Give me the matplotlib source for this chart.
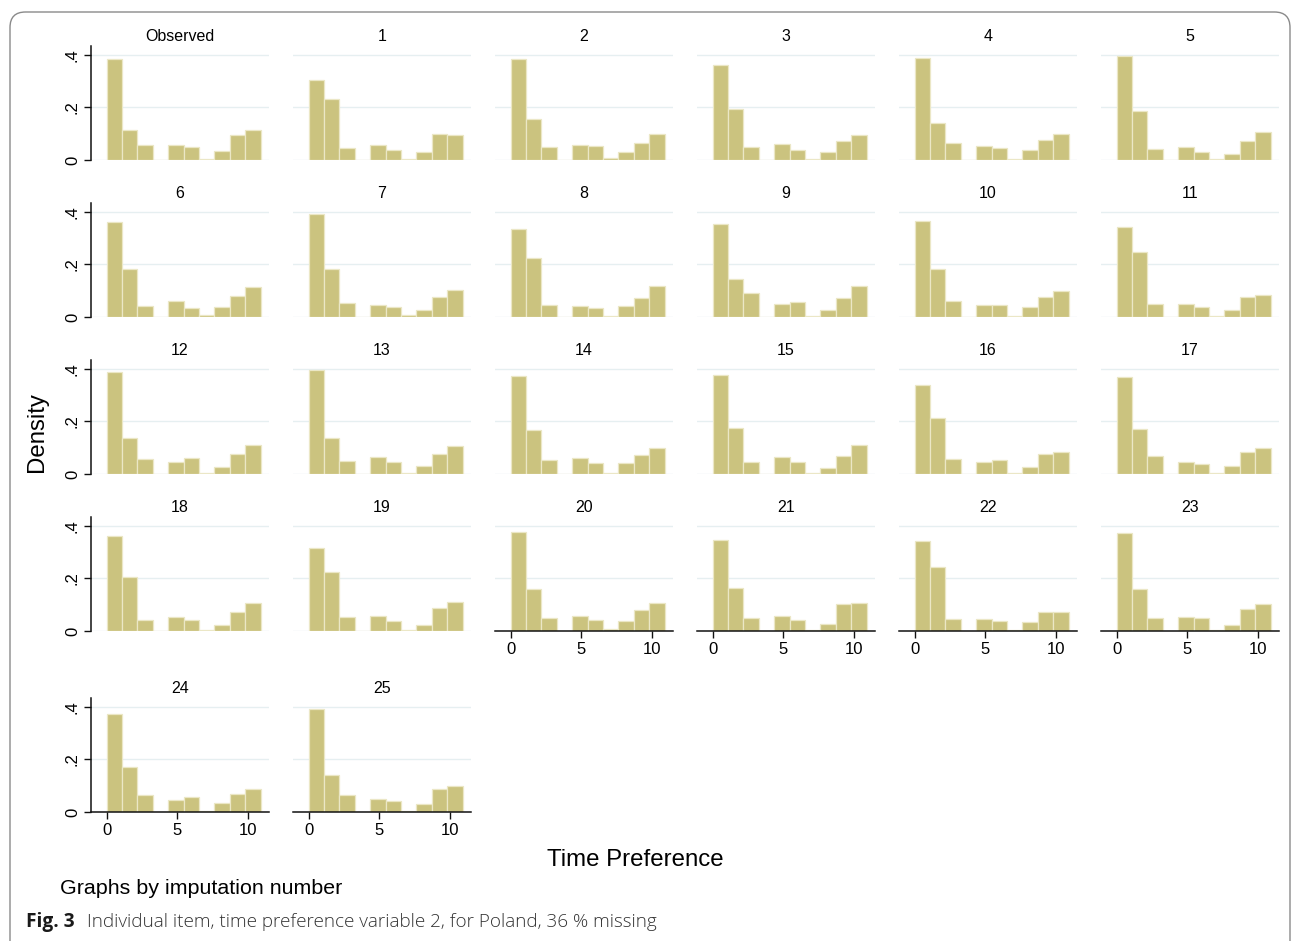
import numpy as np
import matplotlib
matplotlib.use("Agg")
import matplotlib.pyplot as plt
from matplotlib.patches import FancyBboxPatch

# Histogram densities of "Time Preference" (10 bins), observed data and 25 imputations
dens_obs = [0.384, 0.115, 0.057, 0.0, 0.058, 0.050, 0.005, 0.035, 0.095, 0.115]
dens_01 = [0.304, 0.230, 0.046, 0.0, 0.057, 0.038, 0.003, 0.029, 0.100, 0.095]
dens_02 = [0.382, 0.156, 0.051, 0.0, 0.057, 0.053, 0.008, 0.029, 0.066, 0.099]
dens_03 = [0.362, 0.194, 0.051, 0.0, 0.061, 0.039, 0.004, 0.030, 0.072, 0.095]
dens_04 = [0.386, 0.141, 0.065, 0.0, 0.055, 0.047, 0.003, 0.039, 0.076, 0.100]
dens_05 = [0.395, 0.185, 0.043, 0.0, 0.051, 0.030, 0.004, 0.023, 0.074, 0.107]
dens_06 = [0.362, 0.182, 0.041, 0.0, 0.059, 0.034, 0.006, 0.037, 0.081, 0.115]
dens_07 = [0.392, 0.182, 0.053, 0.0, 0.047, 0.038, 0.006, 0.025, 0.075, 0.104]
dens_08 = [0.334, 0.225, 0.047, 0.0, 0.043, 0.035, 0.004, 0.041, 0.071, 0.118]
dens_09 = [0.353, 0.146, 0.092, 0.0, 0.049, 0.056, 0.004, 0.025, 0.071, 0.118]
dens_10 = [0.365, 0.182, 0.062, 0.0, 0.047, 0.047, 0.004, 0.038, 0.077, 0.100]
dens_11 = [0.343, 0.248, 0.049, 0.0, 0.049, 0.038, 0.004, 0.025, 0.075, 0.085]
dens_12 = [0.389, 0.135, 0.058, 0.0, 0.046, 0.059, 0.003, 0.027, 0.076, 0.110]
dens_13 = [0.395, 0.135, 0.049, 0.0, 0.065, 0.046, 0.003, 0.030, 0.076, 0.105]
dens_14 = [0.373, 0.166, 0.053, 0.0, 0.059, 0.041, 0.003, 0.041, 0.073, 0.097]
dens_15 = [0.376, 0.176, 0.046, 0.0, 0.065, 0.046, 0.003, 0.023, 0.068, 0.109]
dens_16 = [0.339, 0.213, 0.058, 0.0, 0.046, 0.053, 0.003, 0.027, 0.076, 0.084]
dens_17 = [0.370, 0.172, 0.068, 0.0, 0.046, 0.038, 0.003, 0.030, 0.084, 0.099]
dens_18 = [0.361, 0.204, 0.041, 0.0, 0.052, 0.043, 0.003, 0.024, 0.072, 0.105]
dens_19 = [0.315, 0.223, 0.053, 0.0, 0.056, 0.038, 0.003, 0.024, 0.087, 0.109]
dens_20 = [0.376, 0.161, 0.049, 0.0, 0.058, 0.043, 0.006, 0.038, 0.080, 0.105]
dens_21 = [0.347, 0.162, 0.048, 0.0, 0.057, 0.042, 0.003, 0.025, 0.101, 0.108]
dens_22 = [0.341, 0.242, 0.044, 0.0, 0.044, 0.039, 0.005, 0.033, 0.071, 0.073]
dens_23 = [0.373, 0.159, 0.048, 0.0, 0.052, 0.048, 0.003, 0.024, 0.082, 0.103]
dens_24 = [0.372, 0.171, 0.066, 0.0, 0.047, 0.057, 0.003, 0.034, 0.069, 0.088]
dens_25 = [0.390, 0.140, 0.066, 0.0, 0.051, 0.041, 0.003, 0.030, 0.088, 0.100]

panel_titles = ["Observed"] + [str(i) for i in range(1, 26)]
panel_dens = [dens_obs, dens_01, dens_02, dens_03, dens_04, dens_05, dens_06,
              dens_07, dens_08, dens_09, dens_10, dens_11, dens_12, dens_13,
              dens_14, dens_15, dens_16, dens_17, dens_18, dens_19, dens_20,
              dens_21, dens_22, dens_23, dens_24, dens_25]

bin_start = 0.0
bin_width = 1.09
x_ticks = [0, 5, 10]
y_ticks = [0, 0.2, 0.4]
y_ticklabels = ["0", ".2", ".4"]

W, H = 1292, 941
fig = plt.figure(figsize=(W / 100, H / 100), dpi=100)
plt.rcParams["font.family"] = ["Liberation Sans", "DejaVu Sans"]

BAR = "#cbc37f"
BAR_EDGE = "#ebe7c6"
GRID = "#e6eff1"

ncols = 6
col_x = [91 + 202 * c for c in range(ncols)]
row_zero = [160, 317, 474, 631, 812]
ax_w = 178
ax_h = 114
n = len(panel_dens)

def add_ax(x, y_zero):
    return fig.add_axes([x / W, 1 - y_zero / H, ax_w / W, ax_h / H])

for i, (title, dens) in enumerate(zip(panel_titles, panel_dens)):
    r, c = divmod(i, ncols)
    ax = add_ax(col_x[c], row_zero[r])
    edges = bin_start + bin_width * np.arange(len(dens) + 1)
    ax.bar(edges[:-1], dens, width=bin_width, align="edge",
           color=BAR, edgecolor=BAR_EDGE, linewidth=0.9, zorder=2)
    ax.set_xlim(-1.1, 11.5)
    ax.set_ylim(0, 0.433)
    for yv in y_ticks:
        ax.axhline(yv, color=GRID, linewidth=1.0, zorder=1)
    for s in ax.spines.values():
        s.set_visible(False)
    ax.set_title(title, fontsize=11.5, pad=3.5)

    show_y = (c == 0)
    below = i + ncols
    show_x = below >= n

    if show_y:
        ax.spines["left"].set_visible(True)
        ax.spines["left"].set_color("#111111")
        ax.spines["left"].set_linewidth(1.1)
        ax.set_yticks(y_ticks)
        ax.set_yticklabels(y_ticklabels, rotation=90, va="center", fontsize=12)
        ax.tick_params(axis="y", length=5, width=1.0, color="#111111", pad=3)
    else:
        ax.set_yticks([])

    if show_x:
        ax.spines["bottom"].set_visible(True)
        ax.spines["bottom"].set_color("#111111")
        ax.spines["bottom"].set_linewidth(1.1)
        ax.spines["bottom"].set_zorder(3)
        ax.set_xticks(x_ticks)
        ax.set_xticklabels([str(t) for t in x_ticks], fontsize=12)
        ax.tick_params(axis="x", length=5, width=1.0, color="#111111", pad=3)
    else:
        ax.set_xticks([])

fig.text(37 / W, 1 - 432 / H, "Density", rotation=90, ha="center", va="center",
         fontsize=17.3)
fig.text(635 / W, 1 - 860 / H, "Time Preference", ha="center", va="center",
         fontsize=17.3)
fig.text(60 / W, 1 - 888 / H, "Graphs by imputation number", ha="left",
         va="center", fontsize=15.4)

cap_y = 1 - 922 / H
fig.text(26 / W, cap_y, "Fig. 3", ha="left", va="center", fontsize=13.8,
         fontweight="bold", family=["Open Sans", "DejaVu Sans"], color="#1a1a1a")
fig.text(87 / W, cap_y,
         "Individual item, time preference variable 2, for Poland, 36 % missing",
         ha="left", va="center", fontsize=13.6, fontweight="light",
         family=["Open Sans", "DejaVu Sans"], color="#333333")

frame = FancyBboxPatch((10 / W, -0.05), (1290 - 10) / W, (1 - 12 / H) + 0.05,
                       boxstyle="round,pad=0,rounding_size=0.012",
                       transform=fig.transFigure, fill=False,
                       edgecolor="#8a8a8a", linewidth=1.0, mutation_aspect=W / H)
fig.patches.append(frame)

fig.savefig("out.png", dpi=100)
